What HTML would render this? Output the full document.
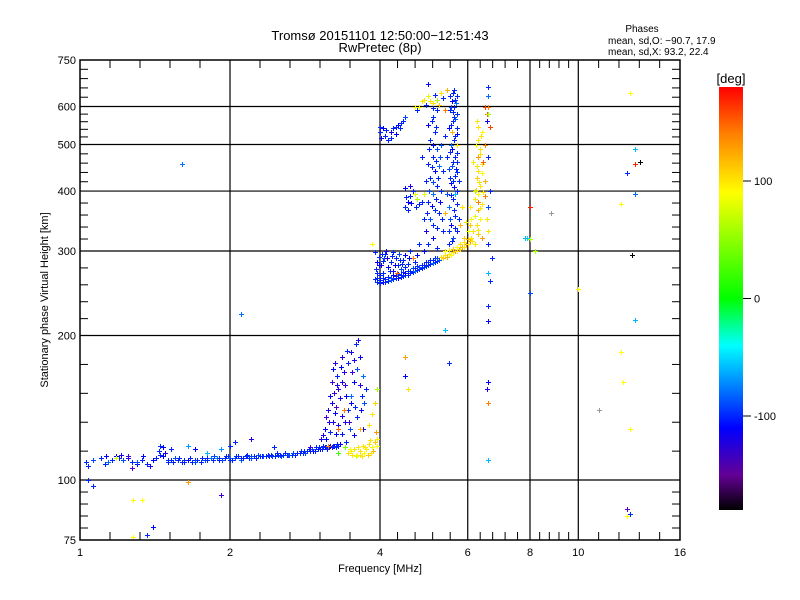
<!DOCTYPE html>
<html><head><meta charset="utf-8"><style>
body{margin:0;background:#fff;}
svg{display:block;font-family:"Liberation Sans","DejaVu Sans",sans-serif;}
</style></head><body>
<svg id="chart" width="800" height="600" viewBox="0 0 800 600">
<rect x="0" y="0" width="800" height="600" fill="#fff"/>
<text x="380" y="40" font-size="13" text-anchor="middle">Tromsø 20151101 12:50:00−12:51:43</text>
<text x="380" y="52" font-size="13" text-anchor="middle">RwPretec (8p)</text>
<g font-size="10">
<text x="642" y="32" text-anchor="middle">Phases</text>
<text x="608" y="44">mean, sd,O: −90.7, 17.9</text>
<text x="608" y="55">mean, sd,X:  93.2, 22.4</text>
</g>
<g id="grid"></g>
<g id="marks" shape-rendering="crispEdges"></g>
<rect x="80" y="60" width="600" height="480" fill="none" stroke="#000" stroke-width="1.5"/>
<g id="ticks"></g>
<text x="380" y="572" font-size="11" text-anchor="middle">Frequency [MHz]</text>
<text transform="translate(48,300) rotate(-90)" font-size="11" text-anchor="middle">Stationary phase Virtual Height [km]</text>
<defs><linearGradient id="cb" x1="0" y1="1" x2="0" y2="0">
<stop offset="0" stop-color="#000"/><stop offset="0.083" stop-color="#640096"/><stop offset="0.194" stop-color="#0000ff"/><stop offset="0.389" stop-color="#00ffff"/><stop offset="0.5" stop-color="#00ff00"/><stop offset="0.75" stop-color="#ffff00"/><stop offset="0.889" stop-color="#ff8000"/><stop offset="1" stop-color="#ff0000"/>
</linearGradient></defs>
<rect x="719" y="87" width="24" height="423" fill="url(#cb)"/>
<text x="731" y="83" font-size="13" text-anchor="middle">[deg]</text>
<g id="cbticks" font-size="11"></g>
</svg>
<script>
const xMajor=[1,2,4,6,8,10,16];
const xTickLabels=["1","2","4","6","8","10","16"];
const yMajor=[75,100,200,300,400,500,600,750];
const yTickLabels=["75","100","200","300","400","500","600","750"];
const xGrid=[2,4,6,8,10];
const yGrid=[100,200,300,400,500,600];
const cbValues=[100,0,-100];
const cbLabels=["100","0","-100"];
// E-layer trace [freq MHz, height km, phase deg]
const eTrace=[[1.03,109,-100],[1.04,107,-100],[1.06,110,-90],[1.1,111,-100],[1.12,108,-100],[1.14,109,-80],[1.16,110,-100],[1.18,112,-110],[1.2,111,-100],[1.22,110,-90],[1.25,111,-120],[1.27,109,-100],[1.3,108,-110],[1.33,110,-100],[1.36,108,-100],[1.4,110,-110],[1.42,111,-100],[1.45,113,-100],[1.47,112,-110],[1.5,109,-100],[1.52,110,-100],[1.55,111,-90],[1.57,110,-100],[1.6,109,-100],[1.62,110,-100],[1.65,110,-110],[1.68,109,-100],[1.7,110,-100],[1.72,110,-100],[1.75,109,-100],[1.78,110,-90],[1.8,111,-100],[1.83,111,-80],[1.85,110,-100],[1.88,111,-70],[1.9,111,-100],[1.93,110,-90],[1.95,111,-100],[1.98,112,-100],[2.0,111,-80],[2.02,110,-100],[2.05,111,-90],[2.08,112,-100],[2.1,110,-80],[2.12,111,-100],[2.15,112,-100],[2.18,111,-100],[2.2,111,-90],[2.23,112,-100],[2.26,111,-100],[2.3,112,-100],[2.33,112,-90],[2.36,112,-100],[2.4,112,-100],[2.43,112,-90],[2.46,112,-100],[2.5,113,-100],[2.53,112,-90],[2.56,113,-100],[2.6,113,-100],[2.63,113,-90],[2.66,113,-100],[2.7,113,-100],[2.73,114,-90],[2.76,114,-100],[2.8,114,-100],[2.83,114,-90],[2.86,115,-100],[2.9,115,-100],[2.93,115,-110],[2.96,115,-100],[3.0,116,-100],[3.03,116,-110],[3.06,116,-100],[3.1,117,-110],[3.13,116,-100],[3.16,117,-120],[3.2,117,-100],[3.23,118,-110],[3.26,117,-100],[3.3,118,-100],
[1.5,110,-100],[1.58,111,-100],[1.66,111,-100],[1.76,111,-100],[1.86,112,-90],[1.96,112,-100],[2.06,112,-100],[2.16,113,-100],[2.28,113,-90],[2.38,113,-100],[2.48,114,-100],[2.58,114,-100],[2.68,114,-90],[2.78,115,-100],[2.88,116,-100],[2.98,117,-100],[3.08,118,-100],[3.18,118,-110],[3.28,119,-100],
[1.54,109,-100],[1.62,109,-100],[1.7,109,-90],[1.8,110,-100],[1.9,110,-100],[2.0,110,-100],[2.1,111,-100],[2.2,112,-90],[2.32,112,-100],[2.42,113,-100],[2.52,113,-100],[2.62,113,-90],[2.72,114,-100],[2.82,115,-100],[2.92,116,-90],[3.02,117,-100],[3.12,117,-100],[3.22,118,-100],[3.32,119,-110],[1.13,112,-110],[1.21,113,-120],[1.34,112,-110],[1.38,107,-120],[1.44,115,-100],[1.48,114,-120]];
// E-layer scatter above trace and outliers
const eScatter=[[3.05,122,-120],[3.1,128,-110],[3.12,135,-130],[3.15,140,-120],[3.18,150,-115],[3.2,160,-130],[3.22,170,-110],[3.25,175,-120],[3.28,165,-100],[3.3,155,-125],[3.2,145,-120],[3.25,138,-110],[3.3,130,-115],[3.35,125,-105],[3.4,132,-120],[3.45,140,-100],[3.5,150,-80],[3.55,160,-110],[3.6,170,-90],[3.65,180,-110],[3.5,185,-120],[3.45,175,-100],[3.38,168,-120],[3.4,158,-130],[3.32,148,-120],[3.5,145,-110],[3.6,135,-100],[3.7,128,-120],[3.72,145,-90],[3.75,155,-100],[3.7,165,-80],[3.58,192,-100],[3.62,196,-120],[3.55,124,-110],[3.42,120,-100],[3.27,142,-140],[3.18,126,-100],[3.38,140,140],[3.3,128,150],[3.65,128,120],[3.8,130,100],[3.85,137,100],[3.9,145,110],[3.95,155,60],[3.15,118,140],[2.9,117,-130],[3.35,160,-120],[3.42,150,-110],[3.52,168,-130],[3.68,150,-100],[3.22,132,-120],[3.12,122,-110],[3.48,128,-90],
[3.24,152,-130],[3.28,158,-120],[3.34,172,-110],[3.36,180,-120],[3.44,186,-100],[3.54,178,-120],[3.56,142,-100],[3.64,158,-120],[3.66,140,-110],[3.46,132,-130],[3.36,136,-120],[3.26,125,-110],[3.16,132,-120],[3.08,124,-120],
[1.04,100,-100],[1.06,97,-100],[1.28,91,90],[1.33,91,90],[1.36,77,-100],[1.4,80,-110],[1.28,76,90],[1.65,99,130],[1.92,93,-130],[1.6,455,-80],[2.1,222,-80],[1.45,118,-100],[1.47,117,-110],[1.7,116,-110],[1.65,118,-70],[1.8,114,-60],[1.92,116,-70],[2.0,118,-100],[2.2,122,-120],[2.05,120,-100],[1.25,112,-130],[1.3,109,-90],[1.18,111,80],[1.27,106,-140],[1.52,116,-100],[2.45,117,-100]];
// E-layer yellow (X-mode) cluster
const eYellow=[[3.45,114,100],[3.5,115,95],[3.55,116,100],[3.6,113,90],[3.65,115,100],[3.7,118,100],[3.75,116,95],[3.8,119,100],[3.85,117,90],[3.9,120,110],[3.95,122,100],[3.58,112,80],[3.68,112,100],[3.78,113,110],[3.88,115,120],[3.92,126,130],[3.4,117,40],[3.3,114,20],[3.62,117,100],[3.72,114,90],[3.82,121,100],[3.52,113,100],[3.48,116,90],[3.64,113,100],[3.74,117,100],[3.84,114,100],[3.94,118,90]];
// F-layer base trace
const fTrace=[[3.9,262,-100],[3.95,258,-100],[4.0,257,-100],[4.05,258,-110],[4.1,259,-100],[4.15,260,-100],[4.2,261,-80],[4.25,262,-100],[4.3,263,-100],[4.35,264,-110],[4.4,265,-100],[4.45,266,-100],[4.5,267,-90],[4.55,268,-100],[4.6,270,-100],[4.65,271,-100],[4.7,272,-80],[4.75,274,-100],[4.8,275,-100],[4.85,276,-100],[4.9,278,-90],[4.95,279,-100],[5.0,280,-100],[5.05,282,-100],[5.1,283,-80],[5.15,285,-100],[5.2,286,-100],[5.25,288,-90],
[3.95,263,-100],[4.05,264,-100],[4.15,265,-100],[4.25,267,-110],[4.35,269,-100],[4.45,271,-100],[4.55,273,-100],[4.65,276,-90],[4.75,279,-100],[4.85,281,-100],[4.95,284,-100],[5.05,287,-100],[5.15,290,-100],
[4.0,261,-100],[4.1,262,-100],[4.2,264,-90],[4.3,266,-100],[4.4,268,-100],[4.5,270,-110],[4.6,273,-100],[4.7,276,-100],[4.8,278,-90],[4.9,281,-100],[5.0,284,-100],[5.1,287,-100],[5.2,290,-90],
[5.3,292,100],[5.35,290,110],[5.4,294,100],[5.45,292,120],[5.5,296,100],[5.55,295,90],[5.6,298,100],[5.65,300,130],[5.7,300,100],[5.75,303,140],[5.8,303,100],[5.85,306,120],[5.9,306,100],[5.95,310,140],[6.0,310,100],[6.05,315,130],[6.1,320,100],[5.4,300,90],[5.6,303,110],[5.8,310,100],[5.5,302,100],[5.7,306,90],[5.9,314,100],[6.0,318,120]];
// F-layer low blue cluster
const fLow=[[3.92,275,-100],[3.95,285,-110],[3.98,292,-100],[4.02,280,-120],[4.05,270,-100],[4.08,290,-90],[4.1,296,-100],[4.15,278,-110],[4.2,285,-100],[4.25,272,-120],[4.3,290,-100],[4.35,280,-100],[4.4,275,-90],[4.45,288,-100],[4.5,295,-110],[4.55,282,-100],[4.6,300,-100],[4.65,290,140],[4.7,285,-100],[4.75,295,-110],[3.9,298,-100],[4.12,300,-120],[4.0,268,-100],[4.22,293,-100],[4.32,270,150],[4.42,282,-100],[3.85,310,90],
[3.94,270,-100],[3.98,280,-110],[4.06,286,-100],[4.18,272,-100],[4.28,281,-110],[4.38,288,-100],[4.48,278,-100],[4.58,290,-110],[4.04,296,-100],[4.14,290,-120],[4.24,298,-100],[4.36,296,-90]];
// F-layer blue columns
const fColumns=[[5.5,310,-100],[5.6,320,-90],[5.7,330,-100],[5.55,340,-110],[5.65,355,-100],[5.5,370,-80],[5.6,385,-100],[5.7,400,-100],[5.55,415,-110],[5.65,430,-100],[5.5,445,-90],[5.6,460,-100],[5.7,480,-100],[5.55,500,-80],[5.65,520,-100],[5.5,540,-110],[5.6,560,-100],[5.7,580,-100],[5.55,600,-90],[5.65,620,-100],[5.6,640,-100],[5.62,365,-100],[5.68,445,-100],[5.58,490,-110],[5.72,540,-100],[5.52,590,-100],[5.68,610,-80],[5.75,350,-100],[5.75,420,-100],[5.45,395,-90],[5.45,470,-100],[5.72,500,100],[5.58,530,120],[5.6,420,-100],[5.5,330,-100],[5.66,395,-60],[5.62,570,-100],[5.7,460,-100],[5.52,630,-100],
[5.58,315,-100],[5.66,335,-100],[5.54,350,-90],[5.7,375,-100],[5.56,392,-100],[5.64,408,-110],[5.52,425,-100],[5.72,438,-100],[5.58,452,-90],[5.66,470,-100],[5.54,482,-100],[5.62,510,-100],[5.7,525,-110],[5.56,550,-100],[5.66,565,-90],[5.6,585,-100],[5.64,600,-100],[5.58,615,-110],[5.7,630,-100],[5.62,650,-100],
[5.0,310,-100],[5.1,320,-110],[5.2,335,-100],[5.05,350,-90],[5.15,365,-100],[5.0,380,-100],[5.1,395,-80],[5.2,410,-100],[5.05,425,-100],[5.15,440,-110],[5.0,455,-100],[5.1,470,-100],[5.2,490,-90],[5.05,510,-100],[5.15,530,-100],[5.0,550,-110],[5.1,570,-100],[5.2,590,-100],[5.25,360,-100],[5.25,450,-80],[4.95,330,-120],[4.95,420,-100],[4.9,350,-100],[4.85,470,-100],[5.3,400,-100],[5.3,500,-90],[5.35,330,-100],[5.35,440,-100],[5.4,360,120],[5.4,520,-100],[4.8,310,-100],[4.9,300,-110],[5.2,305,-100],
[5.12,340,-100],[5.08,372,-110],[5.18,385,-100],[5.12,418,-90],[5.08,448,-100],[5.18,462,-100],[5.12,500,-110],[5.18,545,-100],[5.08,560,-100],[5.02,400,-90],[4.98,360,-100],[5.22,425,-100],[5.28,380,-110],[5.32,350,-100],[5.28,470,-90],[5.02,490,-100]];
// F-layer yellow column (X-mode)
const fYellow=[[6.2,310,100],[6.3,325,110],[6.25,340,100],[6.35,350,90],[6.3,365,120],[6.4,375,100],[6.2,385,100],[6.3,395,90],[6.35,410,100],[6.25,425,110],[6.3,440,100],[6.4,455,100],[6.3,470,130],[6.35,490,100],[6.3,510,100],[6.4,530,90],[6.3,545,100],[6.25,560,100],[6.5,390,140],[6.5,420,120],[6.55,350,100],[6.6,330,100],[6.15,330,100],[6.1,350,90],[6.05,370,100],[6.0,330,80],[5.95,345,100],[5.9,320,110],[6.45,460,150],[6.5,500,140],[6.55,580,150],[6.5,600,160],[6.2,400,60],[6.15,460,100],[6.4,320,130],[5.85,370,100],[5.8,340,120],
[6.28,332,100],[6.36,368,100],[6.24,402,110],[6.32,418,100],[6.4,436,90],[6.26,450,100],[6.34,478,100],[6.22,498,90],[6.38,520,100],[6.28,380,140],[6.44,398,100],[6.2,355,80],[6.12,315,100],[6.06,340,110]];
// F-layer upper clusters
const fUpper=[[4.5,370,-100],[4.55,380,-110],[4.6,390,-100],[4.65,400,-100],[4.7,395,80],[4.75,385,60],[4.8,375,-100],[4.5,405,-110],[4.6,410,-120],[4.85,380,-100],[4.55,365,-100],[4.9,395,80],[4.52,388,-100],[4.62,378,-110],[4.72,370,-100],
[4.0,530,-100],[4.05,540,-110],[4.1,520,-100],[4.15,510,-100],[4.2,530,-120],[4.25,540,-100],[4.3,545,-100],[4.35,550,-110],[4.4,555,-100],[4.45,560,-100],[4.5,570,-90],[4.2,515,-100],[4.3,525,-110],[4.0,545,-100],[4.12,535,-100],[4.38,540,-100],[4.02,515,-110],
[4.8,600,90],[4.9,620,100],[5.0,630,80],[5.1,610,100],[5.2,620,60],[5.3,640,100],[4.95,605,-100],[5.05,615,100],[5.15,635,-100],[5.25,605,110],[5.35,625,-100],[4.85,615,100],[5.4,590,140],[5.0,670,-110],[5.45,650,120],[5.1,595,-100],[4.75,590,-100],[4.7,600,90]];
// Scattered outliers at higher frequencies
const fOutliers=[[6.6,660,-100],[6.6,630,-80],[6.6,600,140],[6.6,580,60],[6.55,560,-120],[6.65,545,160],[6.6,470,-100],[6.65,400,-100],[6.6,370,-90],[6.6,310,-100],[6.7,290,-100],[6.6,270,-60],[6.65,260,-100],[6.6,230,-100],[6.6,214,-110],[6.6,160,-110],[6.55,155,-120],[6.6,145,140],[6.6,110,-60],[5.4,205,-60],[5.5,175,-100],[4.5,180,130],[4.5,165,-110],[4.55,155,100],[8.0,370,170],[8.8,360,-200],[7.9,320,-50],[8.0,318,60],[8.2,300,60],[8.0,245,-90],[7.8,320,-60],[12.7,640,90],[13.0,490,-60],[13.3,460,-180],[13.0,455,170],[13.0,395,-80],[12.8,295,-180],[13.0,215,-60],[12.5,87,-140],[12.7,85,-100],[12.5,84,90],[12.2,375,90],[12.2,185,90],[12.3,160,90],[12.7,128,90],[12.5,437,-100],[10.0,250,90],[11.0,140,-200]];

function xs(f){return 80+150*Math.log2(f);}
function ys(h){return 540-480*Math.log10(h/75);}
const NS="http://www.w3.org/2000/svg";
function color(p){
  if(p<-180) return "#999";
  const st=[[-180,0,0,0],[-165,60,0,110],[-140,90,0,210],[-110,0,0,255],[-40,0,255,255],[0,0,255,0],[90,255,255,0],[140,255,128,0],[180,255,0,0]];
  p=Math.min(180,p);
  for(let i=0;i<st.length-1;i++){const a=st[i],b=st[i+1];if(p<=b[0]){const t=(p-a[0])/(b[0]-a[0]);return `rgb(${Math.round(a[1]+t*(b[1]-a[1]))},${Math.round(a[2]+t*(b[2]-a[2]))},${Math.round(a[3]+t*(b[3]-a[3]))})`;}}
  return "rgb(255,0,0)";
}
function line(g,x1,y1,x2,y2,w){const l=document.createElementNS(NS,"line");l.setAttribute("x1",x1);l.setAttribute("y1",y1);l.setAttribute("x2",x2);l.setAttribute("y2",y2);l.setAttribute("stroke","#000");l.setAttribute("stroke-width",w||1);g.appendChild(l);return l;}
function text(g,x,y,s,anchor,size){const t=document.createElementNS(NS,"text");t.setAttribute("x",x);t.setAttribute("y",y);t.setAttribute("text-anchor",anchor);t.setAttribute("font-size",size||11);t.textContent=s;g.appendChild(t);return t;}
const grid=document.getElementById("grid");
xGrid.forEach(f=>{const l=line(grid,xs(f),60,xs(f),540,1.2);

});
yGrid.forEach(h=>{const l=line(grid,80,ys(h),680,ys(h),1.2);

});
const ticks=document.getElementById("ticks");
for(let i=0;i<xMajor.length;i++){
  const x=xs(xMajor[i]);
  const t=text(ticks,x,556,xTickLabels[i],"middle",11);
  
  
  if(i<xMajor.length-1){const x2=xs(xMajor[i+1]);for(let k=1;k<5;k++){const xm=x+(x2-x)*k/5;line(ticks,xm,540,xm,532);line(ticks,xm,60,xm,68);}}
}
for(let i=0;i<yMajor.length;i++){
  const y=ys(yMajor[i]);
  const t=text(ticks,76,y+4,yTickLabels[i],"end",11);
  
  
  if(i<yMajor.length-1){const y2=ys(yMajor[i+1]);for(let k=1;k<5;k++){const ym=y+(y2-y)*k/5;line(ticks,80,ym,88,ym);line(ticks,680,ym,672,ym);}}
}
const marks=document.getElementById("marks");
const groups=[["e-trace",eTrace],["e-scatter",eScatter],["e-xmode",eYellow],["f-trace",fTrace],["f-low",fLow],["f-columns",fColumns],["f-xmode",fYellow],["f-upper",fUpper],["outliers",fOutliers]];
groups.forEach(([name,arr])=>{
  arr.forEach(d=>{
    const x=Math.round(xs(d[0])),y=Math.round(ys(d[1]));
    const p=document.createElementNS(NS,"path");
    p.setAttribute("d",`M${x-2} ${y}h5v1h-5zM${x} ${y-2}h1v5h-1z`);
    p.setAttribute("fill",color(d[2]));
    
    
    marks.appendChild(p);
  });
});
const cb=document.getElementById("cbticks");
for(let i=0;i<cbValues.length;i++){
  const y=510-(cbValues[i]+180)/360*423;
  line(cb,743,y,751,y);
  const t=text(cb,754,y+4,cbLabels[i],"start",11);
  
  
}
</script>
</body></html>
